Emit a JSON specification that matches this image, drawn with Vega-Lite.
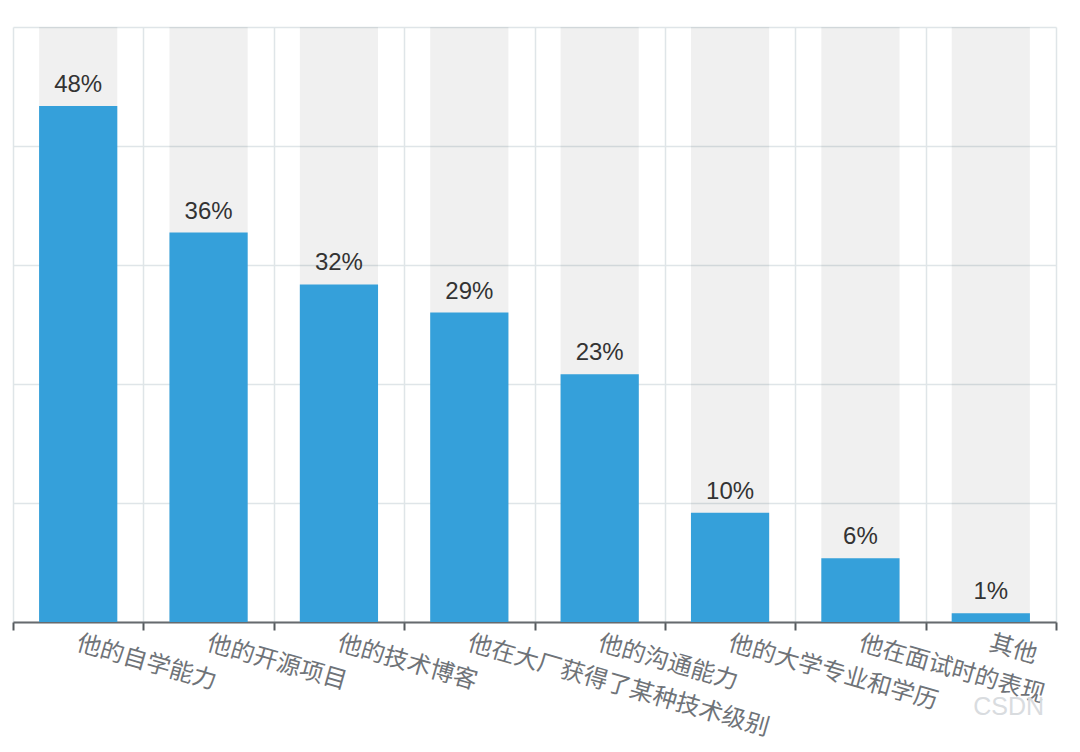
{
"$schema":"https://vega.github.io/schema/vega-lite/v6.json",
"width":1043,"height":595,
"autosize":{"type":"none"},
"padding":{"left":13,"top":27,"right":24,"bottom":130},
"background":"white",
"title":{"text":"CSDN","orient":"bottom","anchor":"end","offset":-45,"dx":-13,"font":"Liberation Sans","fontSize":25,"fontWeight":"normal","color":"#d9dcdf"},
"data":{"values":[
{"item":"他的自学能力","value":47.7,"label":"48%"},
{"item":"他的开源项目","value":36,"label":"36%"},
{"item":"他的技术博客","value":31.2,"label":"32%"},
{"item":"他在大厂获得了某种技术级别","value":28.6,"label":"29%"},
{"item":"他的沟通能力","value":22.9,"label":"23%"},
{"item":"他的大学专业和学历","value":10.1,"label":"10%"},
{"item":"他在面试时的表现","value":5.9,"label":"6%"},
{"item":"其他","value":0.8,"label":"1%"}
]},
"encoding":{
"x":{"field":"item","type":"nominal","sort":null,"title":null,
"scale":{"padding":0},
"axis":{"tickBand":"extent","grid":true,"gridColor":"#dfe5e8","gridWidth":1.5,"domainColor":"#666a6e","domainWidth":2,"tickColor":"#555a5e","tickWidth":2,"tickSize":8,"labelAngle":16,"labelAlign":"left","labelBaseline":"top","labelFont":"Noto Sans CJK SC","labelFontSize":24,"labelColor":"#6f7378","labelPadding":1,"labelOffset":2,"labelOverlap":false,"labelLimit":0,"labelBound":false,"labelFlush":false}}
},
"layer":[
{"mark":{"type":"bar","color":"#000000","opacity":0.06,"width":{"band":0.6}},"encoding":{"y":{"datum":55,"type":"quantitative","scale":{"domain":[0,55],"nice":false},"title":null,
"axis":{"values":[0,11,22,33,44,55],"grid":true,"gridColor":"#dfe5e8","gridWidth":1.5,"domain":false,"ticks":false,"labels":false}}}},
{"mark":{"type":"bar","color":"#35a0da","width":{"band":0.6}},"encoding":{"y":{"field":"value","type":"quantitative","title":null,
"axis":{"values":[0,11,22,33,44,55],"grid":true,"gridColor":"#dfe5e8","gridWidth":1.5,"domain":false,"ticks":false,"labels":false}}}},
{"mark":{"type":"text","baseline":"bottom","dy":-9,"font":"Liberation Sans","fontSize":24,"color":"#333333"},"encoding":{"y":{"field":"value","type":"quantitative","title":null,
"axis":{"values":[0,11,22,33,44,55],"grid":true,"gridColor":"#dfe5e8","gridWidth":1.5,"domain":false,"ticks":false,"labels":false}},"text":{"field":"label"}}}
],
"config":{"view":{"stroke":null}}
}
